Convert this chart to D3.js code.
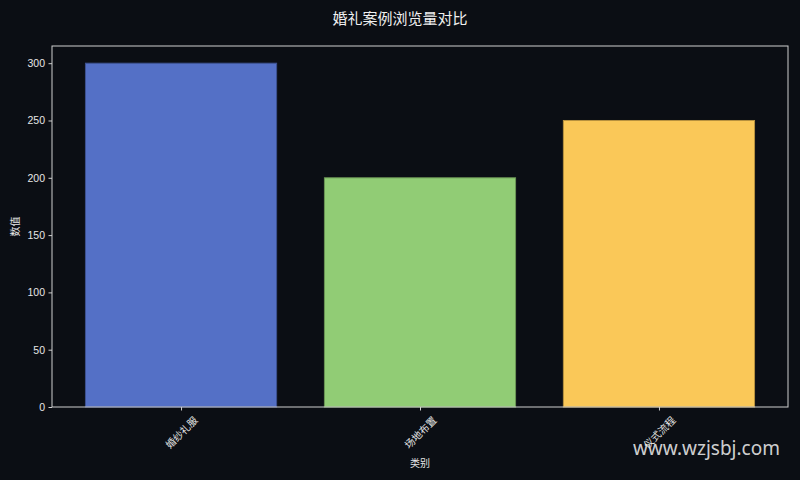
<!DOCTYPE html>
<html><head><meta charset="utf-8">
<script src="https://cdn.jsdelivr.net/npm/d3@7"></script>
<style>body{margin:0;background:#0b0e14;} svg{display:block;}</style>
</head><body>
<script>
const categories = ["婚纱礼服", "场地布置", "仪式流程"];
const values = [300, 200, 250];
const colors = ["#5470c6", "#91cc75", "#fac858"];
const edgeColors = ["#3d5191", "#6b9655", "#b8923f"];
const yTicks = [0, 50, 100, 150, 200, 250, 300];

const W = 800, H = 480;
const m = {left: 52, right: 12, top: 46, bottom: 73};
const font = "'Noto Sans CJK SC', 'Noto Sans', sans-serif";
const numFont = "'Liberation Sans', Arial, sans-serif";
const svg = d3.select("body").append("svg").attr("width", W).attr("height", H)
  .style("background", "#0b0e14");

const x = d3.scaleLinear().domain([-0.54, categories.length - 1 + 0.54]).range([m.left, W - m.right]);
const y = d3.scaleLinear().domain([0, 315]).range([H - m.bottom, m.top]);

// bars
svg.selectAll("rect.bar").data(values).join("rect").attr("class", "bar")
  .attr("x", (d, i) => x(i - 0.4)).attr("width", x(0.4) - x(-0.4))
  .attr("y", d => y(d)).attr("height", d => y(0) - y(d))
  .attr("fill", (d, i) => colors[i]).attr("stroke", (d, i) => edgeColors[i]).attr("stroke-width", 1);

// frame
svg.append("rect").attr("x", m.left).attr("y", m.top)
  .attr("width", W - m.left - m.right).attr("height", H - m.top - m.bottom)
  .attr("fill", "none").attr("stroke", "#cfcfcf").attr("stroke-width", 1);

// y axis
const yAxis = svg.append("g").attr("transform", `translate(${m.left},0)`)
  .call(d3.axisLeft(y).tickValues(yTicks).tickSize(3.5).tickPadding(3.5));
yAxis.select(".domain").remove();
yAxis.selectAll("line").attr("stroke", "#cfcfcf");
yAxis.selectAll("text").attr("fill", "#e6e6e6").style("font-size", "10.5px").style("font-family", numFont);

// x axis
const xAxis = svg.append("g").attr("transform", `translate(0,${H - m.bottom})`)
  .call(d3.axisBottom(x).tickValues(d3.range(categories.length)).tickSize(3.5).tickFormat(""));
xAxis.select(".domain").remove();
xAxis.selectAll("line").attr("stroke", "#cfcfcf");
svg.selectAll("text.xl").data(categories).join("text").attr("class", "xl")
  .attr("transform", (d, i) => `translate(${x(i)},${H - m.bottom + 25}) rotate(-45)`)
  .attr("text-anchor", "middle").attr("dominant-baseline", "central")
  .attr("fill", "#e6e6e6").style("font-size", "10px").style("font-family", font)
  .text(d => d);

// labels
svg.append("text").attr("x", 400).attr("y", 24).attr("text-anchor", "middle")
  .attr("fill", "#f0f0f0").style("font-size", "15px").style("font-family", font).text("婚礼案例浏览量对比");
svg.append("text").attr("x", x(1)).attr("y", 467).attr("text-anchor", "middle")
  .attr("fill", "#e6e6e6").style("font-size", "10px").style("font-family", font).text("类别");
svg.append("text").attr("transform", `translate(19,${(m.top + H - m.bottom) / 2}) rotate(-90)`)
  .attr("text-anchor", "middle").attr("fill", "#e6e6e6").style("font-size", "10px").style("font-family", font).text("数值");

// watermark
svg.append("text").attr("x", 780).attr("y", 455).attr("text-anchor", "end")
  .attr("fill", "#e8e8e8").attr("fill-opacity", 0.9).style("font-size", "19px").style("font-family", "'Noto Sans', sans-serif")
  .text("www.wzjsbj.com");
</script>
</body></html>
